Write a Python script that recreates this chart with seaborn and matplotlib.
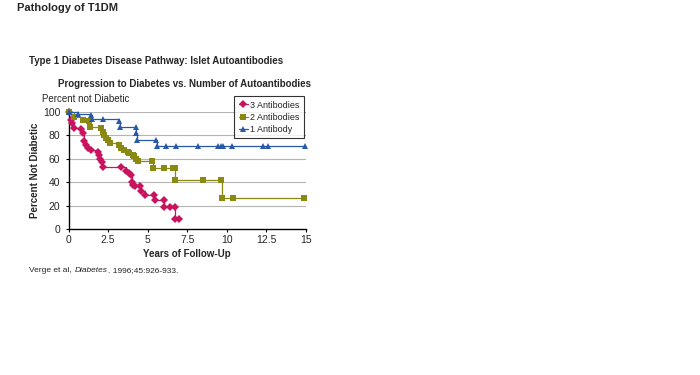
import matplotlib
matplotlib.use("Agg")
import matplotlib.pyplot as plt
import seaborn as sns
import pandas as pd

# Kaplan-Meier style curves (years, percent not diabetic)
years_3ab = [0, 0.15, 0.25, 0.35, 0.8, 0.9, 1.0, 1.1, 1.2, 1.4, 1.85, 1.95, 2.0, 2.1, 2.2,
             3.3, 3.6, 3.8, 3.95, 4.0, 4.1, 4.2, 4.5, 4.6, 4.8, 5.4, 5.45, 6.0, 6.05, 6.4,
             6.7, 6.75, 7.0]
pct_3ab = [100, 93, 90, 86, 85, 82, 75, 72, 69, 67, 66, 63, 60, 57, 53,
           53, 50, 48, 46, 40, 38, 37, 37, 33, 29, 29, 25, 25, 19, 19,
           19, 9, 9]

years_2ab = [0, 0.35, 0.9, 1.3, 1.35, 2.05, 2.15, 2.25, 2.35, 2.5, 2.6, 3.2, 3.3, 3.5,
             3.75, 3.85, 4.05, 4.15, 4.25, 4.4, 5.3, 5.35, 6.05, 6.6, 6.7, 6.75, 8.5,
             9.65, 9.7, 10.4, 14.85]
pct_2ab = [100, 95, 93, 92, 87, 86, 83, 80, 78, 76, 73, 72, 69, 67,
           66, 65, 63, 62, 60, 58, 58, 52, 52, 52, 52, 42, 42,
           42, 27, 27, 27]

years_1ab = [0, 0.57, 1.4, 1.5, 2.15, 3.2, 3.25, 4.25, 4.27, 4.35, 5.55, 5.6, 6.15, 6.8,
             8.2, 9.45, 9.65, 9.75, 10.3, 12.3, 12.6, 14.95]
pct_1ab = [100, 98, 97, 94, 94, 92, 87, 87, 82, 76, 76, 71, 71, 71,
           71, 71, 71, 71, 71, 71, 71, 71]

series_names = ["3 Antibodies", "2 Antibodies", "1 Antibody"]
series_colors = ["#C8145F", "#8A8A12", "#2858A8"]
series_markers = ["D", "s", "^"]
y_ticks = [0, 20, 40, 60, 80, 100]
x_ticks = [0, 2.5, 5, 7.5, 10, 12.5, 15]
x_tick_labels = ["0", "2.5", "5", "7.5", "10", "12.5", "15"]

sns.set_theme(style="white")
plt.rcParams["font.family"] = ["Liberation Sans", "DejaVu Sans"]

fig = plt.figure(figsize=(7, 3.75), dpi=100)
ax = fig.add_axes([68.5 / 700, 1 - 229.4 / 375, 237.5 / 700, 117.8 / 375])

data = [(years_3ab, pct_3ab), (years_2ab, pct_2ab), (years_1ab, pct_1ab)]
sizes = {"D": 3.8, "s": 3.8, "^": 4.4}
for (xs, ys), name, col, mk in zip(data, series_names, series_colors, series_markers):
    df = pd.DataFrame({"years": xs, "pct": ys})
    sns.lineplot(data=df, x="years", y="pct", ax=ax, color=col, marker=mk,
                 markersize=sizes[mk], markeredgewidth=0,
                 linewidth=0.9, drawstyle="steps-post", estimator=None,
                 sort=False, label=name, clip_on=False, zorder=3)

ax.set_xlim(0, 15)
ax.set_ylim(0, 100)
ax.set_xticks(x_ticks)
ax.set_xticklabels(x_tick_labels)
ax.set_yticks(y_ticks)
for y in y_ticks[1:]:
    ax.axhline(y, color="#B4B4B4", linewidth=0.8, zorder=1)

for s in ["top", "right"]:
    ax.spines[s].set_visible(False)
for s in ["left", "bottom"]:
    ax.spines[s].set_color("black")
    ax.spines[s].set_linewidth(1.0)
ax.spines["left"].set_bounds(0, 102)
ax.tick_params(axis="both", labelsize=7.5, length=2, width=0.8, color="black", pad=2,
               bottom=True, left=True)
ax.tick_params(axis="y", pad=4)

ax.set_xlabel("Years of Follow-Up", fontsize=7, fontweight="bold", labelpad=3)
ax.set_ylabel("Percent Not Diabetic", fontsize=7, fontweight="bold", labelpad=2)

leg = ax.legend(loc="upper left", bbox_to_anchor=(234 / 700, 1 - 96 / 375),
                bbox_transform=fig.transFigure, fontsize=6.5, frameon=True,
                fancybox=False, edgecolor="black", handlelength=1.1,
                handletextpad=0.15, borderpad=0.5, labelspacing=0.35,
                borderaxespad=0)
leg.get_frame().set_linewidth(0.8)

fig.text(17 / 700, 1 - 8 / 375, "Pathology of T1DM", fontsize=8, fontweight="bold",
         va="center", ha="left")
fig.text(29 / 700, 1 - 61 / 375, "Type 1 Diabetes Disease Pathway: Islet Autoantibodies",
         fontsize=7, fontweight="bold", va="center", ha="left")
fig.text(185 / 700, 1 - 84 / 375, "Progression to Diabetes vs. Number of Autoantibodies",
         fontsize=7, fontweight="bold", va="center", ha="center")
fig.text(42 / 700, 1 - 99 / 375, "Percent not Diabetic", fontsize=7, va="center", ha="left")

# citation with italic journal name
cite_y = 1 - 271 / 375
t1 = fig.text(29 / 700, cite_y, "Verge et al,", fontsize=6, va="center", ha="left")
fig.canvas.draw()
r = fig.canvas.get_renderer()
t2 = fig.text((t1.get_window_extent(r).x1 + 3) / fig.bbox.width, cite_y, "Diabetes",
              fontsize=6, style="italic", va="center", ha="left")
fig.text((t2.get_window_extent(r).x1 + 0.5) / fig.bbox.width, cite_y, ". 1996;45:926-933.",
         fontsize=6, va="center", ha="left")

fig.savefig("out.png", dpi=100, facecolor="white")
